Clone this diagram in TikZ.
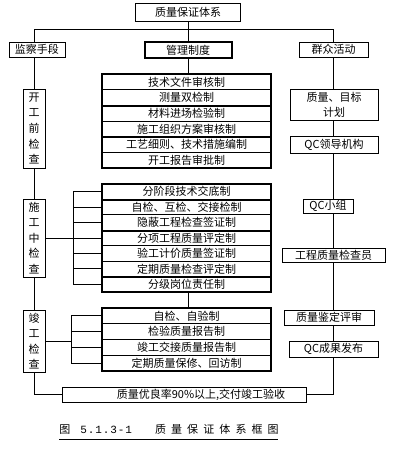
\documentclass[tikz,border=0pt]{standalone}
\usepackage{fontspec}
\setmainfont{Noto Sans CJK SC}
\newfontfamily\capmono{Liberation Mono}
\begin{document}
\begin{tikzpicture}[x=1pt,y=-1pt,
  ln/.style={line width=0.8pt},
  thickln/.style={line width=2pt},
  box/.style={draw, line width=0.8pt, inner sep=0pt, font=\fontsize{11}{13}\selectfont},
  vbox/.style={box, align=center, minimum width=22pt, font=\fontsize{11}{15.6}\selectfont},
  row/.style={draw, line width=0.8pt, inner sep=0pt, minimum width=169pt, font=\fontsize{11}{13}\selectfont},
  capt/.style={inner sep=0pt, anchor=base, font=\fontsize{11}{13}\selectfont},
  captm/.style={inner sep=0pt, anchor=base, font=\capmono\fontsize{11}{13}\selectfont}]
\useasboundingbox (0,0) rectangle (405,461);

% top level
\node[box, minimum width=105pt, minimum height=18pt] (top) at (188,12) {质量保证体系};
\node[box, minimum width=56pt, minimum height=15pt] (jc) at (37,49.5) {监察手段};
\node[box, line width=2pt, minimum width=87pt, minimum height=16pt] (gl) at (188,50) {管理制度};
\node[box, minimum width=69pt, minimum height=15pt] (qz) at (333.5,49.5) {群众活动};
\coordinate (bus) at (188,29);
\draw[ln] (top.south) -- (bus);
\draw[ln] (bus) -| ([xshift=-3pt]jc.north);
\draw[ln] (bus) -| (qz.north);
\draw[ln] (bus) -- (gl.north);

% left column
\node[vbox, minimum height=79pt] (kg) at (34,128.5) {开\\工\\前\\检\\查};
\node[vbox, minimum height=78pt] (sg) at (34,238) {施\\工\\中\\检\\查};
\node[vbox, minimum height=62pt] (jg) at (34,341) {竣\\工\\检\\查};
\draw[ln] ([xshift=-3pt]jc.south) -- (kg.north);
\draw[ln] (kg.south) -- (sg.north);
\draw[ln] (sg.south) -- (jg.north);

% right column
\node[box, align=center, minimum width=88pt, minimum height=31pt, font=\fontsize{11}{15}\selectfont] (mb) at (334,104.5) {质量、目标\\计划};
\node[box, minimum width=88pt, minimum height=17pt] (qcl) at (334,144.5) {QC领导机构};
\node[box, minimum width=50pt, minimum height=14pt] (qcx) at (328,206) {QC小组};
\node[box, minimum width=103pt, minimum height=14pt] (gc) at (333.5,255) {工程质量检查员};
\node[box, minimum width=90pt, minimum height=15pt] (jd) at (329,317.5) {质量鉴定评审};
\node[box, minimum width=89pt, minimum height=16pt] (qcf) at (333.5,349) {QC成果发布};
\draw[ln] (qz.south) -- (qz.south |- mb.north);
\draw[ln] (qz.south |- mb.south) -- (qz.south |- qcl.north);
\draw[ln] (qz.south |- qcl.south) -- (qz.south |- qcx.north);
\draw[ln] (qz.south |- qcx.south) -- (qz.south |- gc.north);
\draw[ln] (qz.south |- gc.south) -- (qz.south |- jd.north);
\draw[ln] (qz.south |- jd.south) -- (qz.south |- qcf.north);

% middle box 1
\foreach \t [count=\i] in {技术文件审核制,测量双检制,材料进场检验制,施工组织方案审核制,工艺细则、技术措施编制,开工报告审批制}
  \node[row, minimum height=15.667pt] (a\i) at (186.5,{74+(\i-0.5)*15.667}) {\t};
\draw[thickln] (a1.north west) rectangle (a6.south east);
\draw[thickln] (a2.south west) -- (a2.south east);
\draw[thickln] (a4.south west) -- (a4.south east);
\draw[ln] (gl.south) -- (gl.south |- a1.north);

% middle box 2
\foreach \t [count=\i] in {分阶段技术交底制,自检、互检、交接检制,隐蔽工程检查签证制,分项工程质量评定制,验工计价质量签证制,定期质量检查评定制,分级岗位责任制}
  \node[row, minimum height=15.43pt] (b\i) at (186.5,{184+(\i-0.5)*15.43}) {\t};
\draw[thickln] (b1.north west) rectangle (b7.south east);
\draw[thickln] (b1.south west) -- (b1.south east);
\draw[thickln] (b3.south west) -- (b3.south east);
\draw[thickln] (b6.south west) -- (b6.south east);
\coordinate (k2) at (73,238);
\draw[ln] (sg.east) -- (sg.east -| k2);
\draw[ln] (b1.west -| k2) -- (b7.west -| k2);
\foreach \i in {1,...,7} \draw[ln] (b\i.west) -- (b\i.west -| k2);

% middle box 3
\foreach \t [count=\i] in {自检、自验制,检验质量报告制,竣工交接质量报告制,定期质量保修、回访制}
  \node[row, minimum height=15.75pt] (c\i) at (186.5,{308+(\i-0.5)*15.75}) {\t};
\draw[thickln] (c1.north west) rectangle (c4.south east);
\draw[ln] (b7.south -| gl.south) -- (c1.north -| gl.south);
\coordinate (k3) at (71,341);
\draw[ln] (jg.east) -- (jg.east -| k3);
\draw[ln] (c1.west -| k3) -- (c4.west -| k3);
\foreach \i in {1,...,4} \draw[ln] (c\i.west) -- (c\i.west -| k3);

% final
\node[box, minimum width=244pt, minimum height=15pt] (fin) at (184,394.5) {\hspace*{34pt}质量优良率90\%以上,交付竣工验收};
\draw[ln] (jg.south) |- (fin.west);
\draw[ln] (qz.south |- qcf.south) |- (fin.east);

% caption
\node[capt] (cap) at (65,433) {图};
\foreach \c [count=\i] in {5,.,1,.,3,-,1}
  \node[captm] (d\i) at ({80+(\i-0.5)*7.5},433) {\c};
\foreach \c [count=\i] in {质,量,保,证,体,系,框,图}
  \node[capt] (e\i) at ({160.5+(\i-1)*16.1},433) {\c};
\draw[ln] (59,439) -- (278,439);
\end{tikzpicture}
\end{document}
